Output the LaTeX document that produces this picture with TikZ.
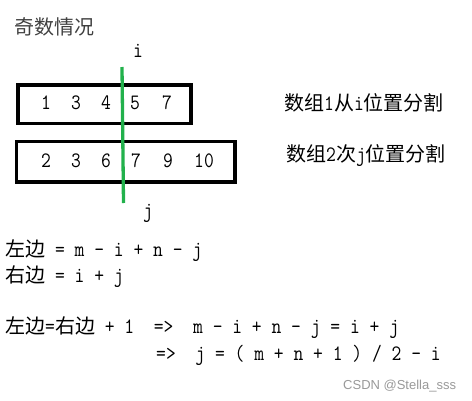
\documentclass[tikz,border=0pt]{standalone}
\usepackage{fontspec}
\usepackage{tikz}
\newfontfamily\cjk{Noto Sans CJK SC}
\newfontfamily\eqfont{Latin Modern Mono}[FakeStretch=0.866]
\newfontfamily\wmfont{Liberation Sans}
\definecolor{cutgreen}{RGB}{34,177,76}
\newcommand{\zh}[1]{{\fontsize{20pt}{24pt}\cjk #1}}

\tikzset{
  box/.style={draw, line width=3.3pt, inner sep=0pt},
  num/.style={anchor=base, inner sep=0pt, font=\fontsize{22pt}{26pt}\eqfont},
  txt/.style={anchor=base west, inner sep=0pt, font=\fontsize{22pt}{26pt}\eqfont},
  cut/.style={draw=cutgreen, line width=3.3pt},
}

\begin{document}
\begin{tikzpicture}[x=1pt, y=-1pt]
    \useasboundingbox (0,0) rectangle (472,400);

    \node (title) at (14,34) [txt, text=black!75] {\zh{奇数情况}};

    % the two arrays
    \node (arr1) at (104.5,104.2) [box, minimum width=173pt, minimum height=38.3pt] {};
    \node (arr2) at (125.7,161.7) [box, minimum width=218.7pt, minimum height=40.7pt] {};

    \foreach \v/\x [count=\k] in {1/46,3/76,4/106,5/135,7/167} {
      \node (a\k) at (\x,109) [num] {\v};
    }
    \foreach \v/\x [count=\k] in {2/46,3/76,6/106,7/136,9/168,10/204} {
      \node (b\k) at (\x,167.5) [num] {\v};
    }

    % cut position
    \coordinate (cuttop) at (122,67);
    \coordinate (cutbot) at (123.5,203);
    \draw[cut] (cuttop) -- (cutbot);
    \node (ilab) at (138,57) [num] {i};
    \node (jlab) at (148,217) [num] {j};

    \node (lab1) at (284,110) [txt] {\zh{数组}1\zh{从}i\zh{位置分割}};
    \node (lab2) at (286,161.7) [txt] {\zh{数组}2\zh{次}j\zh{位置分割}};

    % equations
    \node (eq1) at (5,256) [txt] {\zh{左边} = m - i + n - j};
    \node (eq2) at (5,282.7) [txt] {\zh{右边} = i + j};
    \node (eq3) at (5,333.3) [txt] {\zh{左边}=\zh{右边} + 1~~=>~~m - i + n - j = i + j};
    \node (eq4) at (156,360.7) [txt] {=>~~j = ( m + n + 1 ) / 2 - i};

    \node (wm) at (343,389) [anchor=base west, inner sep=0pt, text=black!40,
      font=\wmfont\fontsize{13pt}{15pt}\selectfont] {CSDN @Stella\_sss};
\end{tikzpicture}
\end{document}
